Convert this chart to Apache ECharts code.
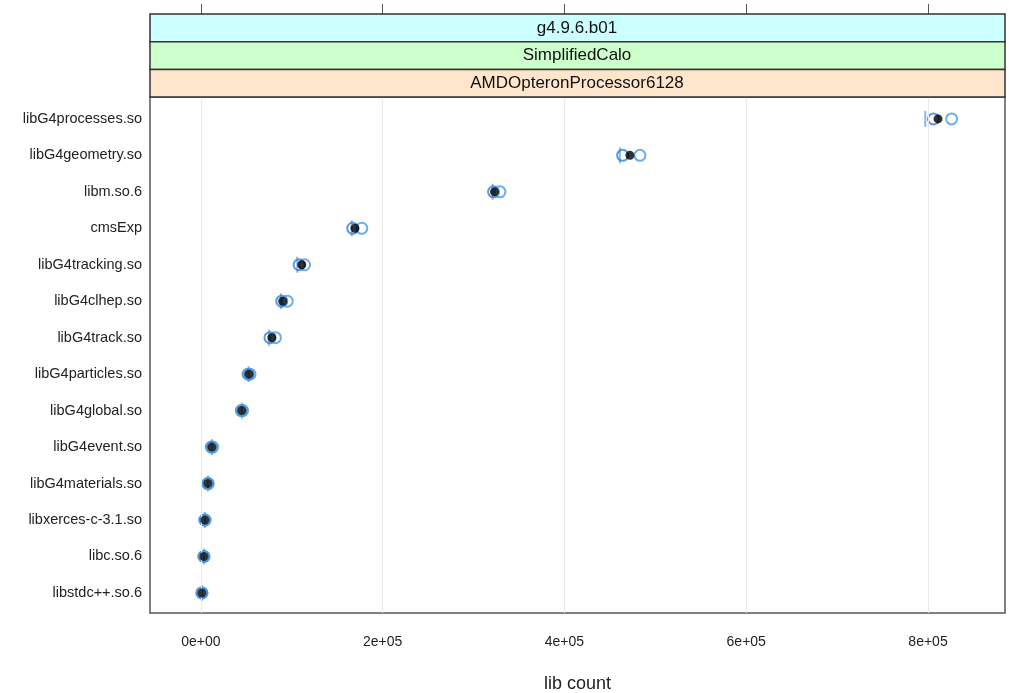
<!DOCTYPE html>
<html>
<head>
<meta charset="utf-8">
<script src="https://cdn.jsdelivr.net/npm/echarts@6/dist/echarts.min.js"></script>
<style>
  html, body { margin: 0; padding: 0; background: #fff; }
  #main { width: 1009px; height: 693px; }
</style>
</head>
<body>
<div id="main"></div>
<script>
// libraries, top to bottom
var libs = ['libG4processes.so', 'libG4geometry.so', 'libm.so.6', 'cmsExp', 'libG4tracking.so',
  'libG4clhep.so', 'libG4track.so', 'libG4particles.so', 'libG4global.so', 'libG4event.so',
  'libG4materials.so', 'libxerces-c-3.1.so', 'libc.so.6', 'libstdc++.so.6'];

var meanCount = [811000, 472000, 323000, 169500, 111000, 90000, 78000, 52800, 45000, 12000, 7700, 4400, 3300, 1100];
var runA = [806000, 464000, 322000, 167000, 108000, 89000, 76000, 52000, 44500, 11500, 7500, 4200, 3200, 1000];
var runB = [826000, 483000, 329000, 177000, 114000, 95000, 82000, 54000, 46000, 13000, 8200, 4700, 3500, 1300];
var runC = [797000, 461000, 321000, 166000, 106000, 88000, 75000, 52500, 45000, 12000, 7700, 4400, 3300, 1100];

var tickVals = [0, 200000, 400000, 600000, 800000];
var tickLabels = ['0e+00', '2e+05', '4e+05', '6e+05', '8e+05'];

var strips = ['g4.9.6.b01', 'SimplifiedCalo', 'AMDOpteronProcessor6128'];
var stripColors = ['#ccffff', '#ccffcc', '#ffe5cc'];

var font = 'Liberation Sans, Arial, sans-serif';

function pairs(vals) {
  return vals.map(function (v, i) { return [v, i]; });
}

var graphics = [];
strips.forEach(function (s, i) {
  graphics.push({
    type: 'rect',
    shape: { x: 150, y: 14 + i * 27.7, width: 855, height: 27.7 },
    style: { fill: stripColors[i], stroke: '#333', lineWidth: 1.5 },
    z: 10
  });
  graphics.push({
    type: 'text',
    x: 577,
    y: 14 + i * 27.7 + 14,
    style: { text: s, fontSize: 17, fontFamily: font, fill: '#111', align: 'center', verticalAlign: 'middle' },
    z: 11
  });
});

var myChart = echarts.init(document.getElementById('main'));
myChart.setOption({
  animation: false,
  grid: { left: 150, right: 4, top: 97, bottom: 80, outerBoundsMode: 'none', show: true, borderColor: '#555', borderWidth: 1.5 },
  graphic: graphics,
  xAxis: [{
    type: 'value',
    min: -56000,
    max: 884700,
    name: 'lib count',
    nameLocation: 'middle',
    nameGap: 62,
    nameTextStyle: { fontSize: 18, fontFamily: font, color: '#222' },
    axisLine: { show: false },
    axisTick: { show: true, customValues: tickVals, length: 10, lineStyle: { color: '#555' } },
    axisLabel: {
      customValues: tickVals,
      margin: 22,
      fontSize: 14,
      fontFamily: font,
      color: '#222',
      formatter: function (v) { return tickLabels[tickVals.indexOf(v)]; }
    },
    splitLine: { show: false }
  }, {
    type: 'value',
    position: 'top',
    offset: 83,
    min: -56000,
    max: 884700,
    axisLine: { show: false },
    axisTick: { show: true, customValues: tickVals, length: 10, lineStyle: { color: '#555' } },
    axisLabel: { show: false },
    splitLine: { show: false }
  }],
  yAxis: {
    type: 'value',
    min: -0.6,
    max: 13.55,
    inverse: true,
    axisLine: { show: false },
    axisTick: { show: false },
    splitLine: { show: false },
    axisLabel: {
      customValues: libs.map(function (d, i) { return i; }),
      fontSize: 14.5,
      fontFamily: font,
      color: '#222',
      margin: 8,
      formatter: function (v) { return libs[Math.round(v)]; }
    }
  },
  series: [{
    name: 'grid',
    type: 'line',
    data: [],
    markLine: {
      silent: true,
      symbol: 'none',
      label: { show: false },
      lineStyle: { color: '#e8e8e8', type: 'solid', width: 1 },
      data: tickVals.map(function (v) { return { xAxis: v }; })
    }
  }, {
    name: 'runC',
    type: 'scatter',
    data: pairs(runC),
    symbol: 'rect',
    symbolSize: [2, 16],
    itemStyle: { color: '#6aa6e6' }
  }, {
    name: 'runA',
    type: 'scatter',
    data: pairs(runA),
    symbol: 'circle',
    symbolSize: 11,
    itemStyle: { color: 'rgba(255,255,255,0)', borderColor: '#2f7fd8', borderWidth: 2 }
  }, {
    name: 'runB',
    type: 'scatter',
    data: pairs(runB),
    symbol: 'circle',
    symbolSize: 11,
    itemStyle: { color: 'rgba(255,255,255,0)', borderColor: '#4a97e6', borderWidth: 2 }
  }, {
    name: 'mean',
    type: 'scatter',
    data: pairs(meanCount),
    symbol: 'circle',
    symbolSize: 9,
    itemStyle: { color: '#000' },
    z: 5
  }]
});
</script>
</body>
</html>
